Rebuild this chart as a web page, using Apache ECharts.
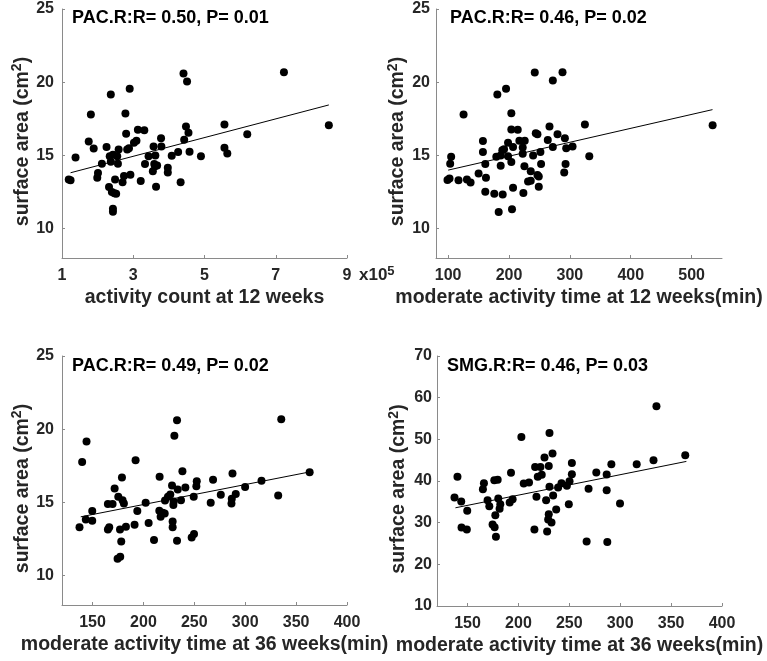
<!DOCTYPE html>
<html>
<head>
<meta charset="utf-8">
<script src="https://cdn.jsdelivr.net/npm/echarts@6/dist/echarts.min.js"></script>
<style>
  html, body { margin: 0; padding: 0; background: #fff; }
  #chart { width: 767px; height: 661px; }
</style>
</head>
<body>
<div id="chart"></div>
<script>
// panel 1: activity count at 12 weeks (x1e5) vs PAC.R area
var countX12 = [1.19,1.24,1.38,1.81,1.75,1.89,2.01,1.99,2.12,2.25,2.32,2.37,2.34,2.37,2.40,2.43,2.43,2.43,2.49,2.52,
  2.55,2.57,2.59,2.70,2.74,2.78,2.80,2.83,2.88,2.90,2.92,3.02,3.09,3.13,3.21,3.31,3.33,3.43,3.55,3.57,
  3.59,3.62,3.61,3.64,3.67,3.78,3.79,3.97,3.97,4.08,4.26,4.33,4.41,4.51,4.43,4.48,4.55,4.58,4.90,5.56,
  5.56,5.64,6.20,7.23,8.49,2.47];
var countArea = [13.36,13.30,14.86,17.80,15.95,15.48,13.80,13.48,14.43,15.57,12.84,19.16,14.95,14.57,12.50,15.05,11.36,11.16,13.36,12.39,
  14.95,14.43,15.41,13.18,13.59,17.86,16.48,15.41,15.50,19.55,13.68,15.86,16.00,16.75,13.25,16.73,14.41,14.95,13.93,15.61,
  14.41,15.00,14.27,12.86,14.32,16.18,15.61,14.16,13.84,14.98,15.23,13.18,20.59,20.05,16.07,16.98,16.55,15.25,14.95,17.11,
  15.52,15.14,16.45,20.68,17.07,12.42];
var countFitX = [1.24, 8.49];
var countFitY = [13.82, 18.45];

// panel 2: moderate activity time at 12 weeks vs PAC.R area
var mod12X = [98.9,102.2,104.9,103.3,117.0,125.3,130.8,136.8,150.0,157.1,157.1,161.0,162.1,161.0,175.8,180.8,179.1,186.3,183.0,189.6,
  186.3,189.0,191.8,195.1,198.4,198.4,203.8,203.8,203.8,206.6,206.6,204.9,214.3,217.0,222.5,222.5,225.8,225.3,223.6,231.3,
  235.7,235.7,239.6,242.3,244.0,246.7,246.7,248.9,248.9,251.6,252.7,263.7,266.5,272.0,272.0,279.7,287.9,290.7,291.8,292.9,
  294.0,304.4,324.7,331.9,534.6];
var mod12Area = [13.32,13.43,14.91,14.43,13.30,17.80,13.36,13.16,13.77,15.98,15.23,14.41,13.48,12.52,12.39,19.16,14.91,14.30,11.14,12.34,
  15.00,15.36,15.43,19.55,15.86,14.95,17.89,16.77,14.55,15.57,12.80,11.32,16.75,16.00,15.55,15.11,16.00,14.27,12.43,13.23,
  13.27,13.93,15.00,20.66,16.52,16.45,13.66,13.57,12.86,15.23,14.41,16.05,16.98,20.11,15.57,16.45,20.68,13.84,16.18,14.41,
  15.50,15.61,17.11,14.95,17.07];
var mod12FitX = [100, 534.4];
var mod12FitY = [14.0, 18.13];

// panel 3: moderate activity time at 36 weeks vs PAC.R area
var mod36X = [137.2,139.8,144.1,143.4,149.7,149.7,165.1,169.7,165.1,166.4,171.7,175.3,177.0,178.2,178.9,179.5,180.8,174.6,177.2,182.8,
  191.3,192.3,194.0,202.2,205.1,210.4,215.9,215.6,216.9,218.9,220.9,221.2,224.1,226.4,228.1,228.7,228.7,229.4,229.7,230.4,
  233.0,233.0,233.7,236.9,238.3,241.2,247.4,249.7,249.4,252.4,252.0,266.1,268.4,276.0,286.5,286.8,287.5,290.7,299.9,316.0,
  332.4,335.4,363.3];
var mod36Area = [13.30,17.77,19.16,13.84,14.41,13.75,14.89,14.89,13.16,13.30,15.95,15.39,13.16,12.34,16.70,15.16,14.93,11.16,11.30,13.34,
  13.48,17.89,14.41,14.98,13.59,12.43,16.75,14.43,14.02,14.30,14.25,15.14,15.39,15.55,16.16,13.70,13.30,14.82,15.07,19.55,
  20.61,12.39,15.89,15.16,17.14,16.02,12.61,12.84,15.39,16.45,16.11,14.98,16.55,15.52,14.93,15.25,16.98,15.57,16.05,16.48,
  15.48,20.68,17.07];
var mod36FitX = [138.4, 363.8];
var mod36FitY = [14.02, 17.09];

// panel 4: moderate activity time at 36 weeks vs SMG.R area
var smgX = [137.2,140.1,143.8,144.1,149.3,149.7,165.1,166.1,169.7,171.4,174.6,176.3,179.6,176.6,177.9,177.3,180.2,181.5,182.2,191.4,
  192.7,194.3,202.9,205.2,210.4,215.7,216.4,217.7,219.0,221.6,222.9,225.6,227.2,228.2,229.2,229.8,230.5,230.5,229.8,232.5,
  233.5,234.1,237.1,239.0,242.3,247.6,250.2,249.5,252.5,252.5,267.0,268.9,276.5,286.7,286.7,287.3,291.3,299.8,316.2,332.7,
  335.6,363.9];
var smgArea = [36.04,41.00,35.09,28.85,28.38,32.85,38.04,39.48,35.40,33.97,29.57,40.20,40.28,28.93,26.62,31.81,35.80,33.33,34.45,34.85,
  41.96,35.65,50.58,39.40,39.64,28.38,43.39,36.20,41.00,43.39,41.48,45.63,35.40,27.90,30.77,43.63,51.54,38.60,32.05,30.05,
  46.59,36.52,33.17,38.44,39.48,38.84,39.96,34.45,44.35,41.64,25.50,38.12,42.04,41.56,37.80,25.34,44.03,34.61,44.03,45.00,
  57.93,46.19];
var smgFitX = [138.1, 365.0];
var smgFitY = [33.57, 44.70];

var pacTicks = [10, 15, 20, 25];
var smgTicks = [10, 20, 30, 40, 50, 60, 70];
var countTicks = [1, 3, 5, 7, 9];
var mod12Ticks = [100, 200, 300, 400, 500];
var mod36Ticks = [150, 200, 250, 300, 350, 400];

var titles = ['PAC.R:R= 0.50, P= 0.01', 'PAC.R:R= 0.46, P= 0.02', 'PAC.R:R= 0.49, P= 0.02', 'SMG.R:R= 0.46, P= 0.03'];
var xNames = ['activity count at 12 weeks', 'moderate activity time at 12 weeks(min)',
  'moderate activity time at 36 weeks(min)', 'moderate activity time at 36 weeks(min)'];

var FONT = '"Liberation Sans", Arial, sans-serif';
var AXIS_GREY = '#8a8a8a';
var TEXT = '#262626';

function zip(xs, ys) {
  return xs.map(function (x, i) { return [x, ys[i]]; });
}

function xAxis(gi, min, max, ticks, name) {
  return {
    type: 'value', gridIndex: gi, min: min, max: max,
    name: name, nameLocation: 'middle', nameGap: 30,
    nameTextStyle: { fontSize: 19.5, fontWeight: 'bold', color: TEXT, fontFamily: FONT },
    axisLine: { onZero: false, lineStyle: { color: AXIS_GREY, width: 1 } },
    axisTick: { inside: true, length: 3, customValues: ticks, lineStyle: { color: AXIS_GREY } },
    axisLabel: { customValues: ticks, margin: 10, fontSize: 16, fontWeight: 'bold', color: TEXT, fontFamily: FONT },
    splitLine: { show: false }
  };
}

function yAxis(gi, min, max, ticks, margin) {
  return {
    type: 'value', gridIndex: gi, min: min, max: max,
    name: '{a|surface area (cm}{s|2}{a|)}', nameLocation: 'middle', nameGap: 26,
    nameTextStyle: {
      padding: [0, 16, 0, 0],
      rich: {
        a: { fontSize: 19.5, fontWeight: 'bold', color: TEXT, fontFamily: FONT, lineHeight: 24 },
        s: { fontSize: 14, fontWeight: 'bold', color: TEXT, fontFamily: FONT, verticalAlign: 'top', lineHeight: 14 }
      }
    },
    axisLine: { onZero: false, lineStyle: { color: AXIS_GREY, width: 1 } },
    axisTick: { inside: true, length: 3, customValues: ticks, lineStyle: { color: AXIS_GREY } },
    axisLabel: { customValues: ticks, margin: margin, fontSize: 16, fontWeight: 'bold', color: TEXT, fontFamily: FONT },
    splitLine: { show: false }
  };
}

function dots(gi, xs, ys) {
  return {
    type: 'scatter', xAxisIndex: gi, yAxisIndex: gi, data: zip(xs, ys),
    symbol: 'circle', symbolSize: 8, itemStyle: { color: '#000', opacity: 1 }, silent: true
  };
}

function fit(gi, xs, ys) {
  return {
    type: 'line', xAxisIndex: gi, yAxisIndex: gi, data: zip(xs, ys),
    showSymbol: false, lineStyle: { color: '#000', width: 1 }, silent: true, z: 1
  };
}

var titleTops = [9, 9, 357, 357];
var titleLefts = [72, 450, 72, 447];

var chart = echarts.init(document.getElementById('chart'));
chart.setOption({
  backgroundColor: '#fff',
  animation: false,
  title: titles.map(function (t, i) {
    return {
      text: t, left: titleLefts[i], top: titleTops[i], padding: 0,
      textStyle: { fontSize: 18, fontWeight: 'bold', color: '#000', fontFamily: FONT }
    };
  }),
  grid: [
    { left: 62, top: 9, width: 285, height: 249 },
    { left: 436, top: 9, width: 286, height: 249 },
    { left: 62, top: 356, width: 285, height: 249 },
    { left: 437, top: 356, width: 285, height: 250 }
  ],
  xAxis: [
    xAxis(0, 1, 9, countTicks, xNames[0]),
    xAxis(1, 80, 550, mod12Ticks, xNames[1]),
    xAxis(2, 120, 400, mod36Ticks, xNames[2]),
    xAxis(3, 120, 400, mod36Ticks, xNames[3])
  ],
  yAxis: [
    yAxis(0, 8, 25, pacTicks, 8),
    yAxis(1, 8, 25, pacTicks, 6),
    yAxis(2, 8, 25, pacTicks, 8),
    yAxis(3, 10, 70, smgTicks, 5)
  ],
  graphic: [{
    type: 'text', left: 359, top: 265,
    style: {
      text: '{a|x10}{s|5}',
      rich: {
        a: { fontSize: 17, fontWeight: 'bold', fill: TEXT, fontFamily: FONT, lineHeight: 20 },
        s: { fontSize: 13, fontWeight: 'bold', fill: TEXT, fontFamily: FONT, verticalAlign: 'top', lineHeight: 13 }
      }
    }
  }],
  series: [
    dots(0, countX12, countArea), fit(0, countFitX, countFitY),
    dots(1, mod12X, mod12Area), fit(1, mod12FitX, mod12FitY),
    dots(2, mod36X, mod36Area), fit(2, mod36FitX, mod36FitY),
    dots(3, smgX, smgArea), fit(3, smgFitX, smgFitY)
  ]
});
</script>
</body>
</html>
